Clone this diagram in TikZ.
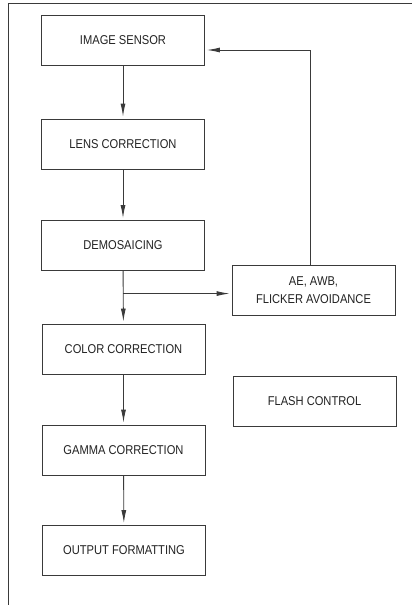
\documentclass[tikz,border=0pt]{standalone}
\usepackage{fontspec}
\setmainfont{Liberation Sans}[FakeStretch=0.87]
\usetikzlibrary{arrows.meta,calc}
\definecolor{ln}{HTML}{3A3A3A}
\definecolor{tx}{HTML}{222222}
\tikzset{
  blk/.style={draw=ln,line width=0.9pt,minimum width=163pt,minimum height=50pt,inner sep=0pt,
    font=\fontsize{12.8}{17.5}\selectfont,text=tx,align=center},
  arr/.style={draw=ln,line width=0.9pt,-{Latex[length=13pt,width=5pt]},shorten >=2pt},
  frm/.style={draw=ln,line width=0.9pt}
}
\begin{document}
\begin{tikzpicture}[x=1pt,y=-1pt]
\useasboundingbox (0,0) rectangle (412,605);
\draw[frm] (8,605) -- (8,3) -- (412,3);
\node[blk] (is) at (123,40) {IMAGE SENSOR};
\node[blk] (lc) at (123,144) {LENS CORRECTION};
\node[blk] (dm) at (123,245.5) {DEMOSAICING};
\node[blk] (cc) at (123.5,349) {COLOR CORRECTION};
\node[blk] (gc) at (123.5,450) {GAMMA CORRECTION};
\node[blk] (of) at (124,550.5) {OUTPUT FORMATTING};
\node[blk] (ae) at (313.5,290) {AE, AWB,\\FLICKER AVOIDANCE};
\node[blk] (fc) at (314.5,401.5) {FLASH CONTROL};
\draw[arr] (is) -- (lc);
\draw[arr] (lc) -- (dm);
\draw[arr] (dm) -- (cc);
\draw[arr] (cc) -- (gc);
\draw[arr] (gc) -- (of);
\coordinate (br) at ($(dm.south)!0.43!(cc.north)$);
\draw[arr] (br) -- (br -| ae.west);
\draw[arr] ([xshift=-3.5pt]ae.north) |- ([yshift=-10pt]is.east);
\end{tikzpicture}
\end{document}
